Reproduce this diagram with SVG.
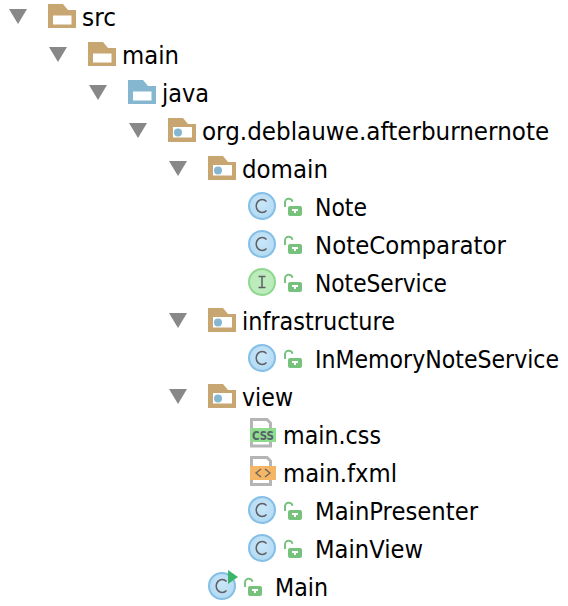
<svg xmlns="http://www.w3.org/2000/svg" width="568" height="606" viewBox="0 0 568 606">
<style>
text{font-family:"DejaVu Sans","Liberation Sans",sans-serif;font-size:25px;fill:#000}
.tri{fill:#888}
</style>
<defs>
<path id="tri" class="tri" d="M0 0H18L9 15Z"/>
<g id="folderShape"><path d="M0 0H15L20 6H28V24H0Z"/><rect x="5" y="11.500" width="18.500" height="9" fill="#fff"/></g>
<g id="pkg"><path d="M0 0H15L20 6H28V24H0Z" fill="#c8a672"/><rect x="5" y="9" width="19" height="10.500" fill="#fff"/><circle cx="10" cy="14.500" r="4" fill="#85b7d1"/></g>
<g id="lock"><rect x="4" y="8" width="14" height="10" rx="2" fill="#76c27d"/><path d="M1 9V5A3.800 3.800 0 0 1 8.500 3.800" fill="none" stroke="#76c27d" stroke-width="2"/><rect x="8" y="11" width="6" height="2" fill="#fff"/><rect x="10" y="11" width="2" height="4" fill="#fff"/></g>
<radialGradient id="cg" cx="50%" cy="40%" r="60%"><stop offset="0" stop-color="#c9e6f8"/><stop offset="1" stop-color="#b2daf3"/></radialGradient>
<g id="cIcon"><circle cx="14" cy="14" r="13" fill="url(#cg)" stroke="#85bfe6" stroke-width="2"/><path d="M18.500 9.500A6 6.500 0 1 0 18.500 18.500" fill="none" stroke="#5f5f63" stroke-width="1.500"/></g>
<g id="iIcon"><circle cx="14" cy="14" r="13" fill="#bcecbc" stroke="#8fd78f" stroke-width="2"/><path d="M10.500 8.500h7M14 8.500v11M10.500 19.500h7" fill="none" stroke="#5f5f63" stroke-width="1.500"/></g>
</defs>
<g id="connectors"/>
<g id="src"><use href="#tri" x="9" y="9"/><use href="#folderShape" x="48" y="4" fill="#c8a672"/><text x="82" y="26" textLength="34" lengthAdjust="spacingAndGlyphs">src</text></g>
<g id="main"><use href="#tri" x="49" y="47"/><use href="#folderShape" x="88" y="42" fill="#c8a672"/><text x="122" y="64" textLength="57" lengthAdjust="spacingAndGlyphs">main</text></g>
<g id="java"><use href="#tri" x="89" y="85"/><use href="#folderShape" x="128" y="80" fill="#85b7d1"/><text x="162" y="102" textLength="47" lengthAdjust="spacingAndGlyphs">java</text></g>
<g id="org"><use href="#tri" x="129" y="123"/><use href="#pkg" x="168" y="118"/><text transform="translate(202 140) scale(.924 1)">org.deblauwe.afterburnernote</text></g>
<g id="domain"><use href="#tri" x="169" y="161"/><use href="#pkg" x="208" y="156"/><text x="242" y="178" textLength="86" lengthAdjust="spacingAndGlyphs">domain</text></g>
<g id="note"><use href="#cIcon" x="248" y="192"/><use href="#lock" x="284" y="198"/><text x="315" y="216" textLength="52" lengthAdjust="spacingAndGlyphs">Note</text></g>
<g id="notecomparator"><use href="#cIcon" x="248" y="230"/><use href="#lock" x="284" y="236"/><text x="315" y="254" textLength="191" lengthAdjust="spacingAndGlyphs">NoteComparator</text></g>
<g id="noteservice"><use href="#iIcon" x="248" y="268"/><use href="#lock" x="284" y="274"/><text x="315" y="292" textLength="132" lengthAdjust="spacingAndGlyphs">NoteService</text></g>
<g id="infrastructure"><use href="#tri" x="169" y="313"/><use href="#pkg" x="208" y="308"/><text x="242" y="330" textLength="153" lengthAdjust="spacingAndGlyphs">infrastructure</text></g>
<g id="inmemory"><use href="#cIcon" x="248" y="344"/><use href="#lock" x="284" y="350"/><text transform="translate(315 368) scale(.883 1)">InMemoryNoteService</text></g>
<g id="view"><use href="#tri" x="169" y="389"/><use href="#pkg" x="208" y="384"/><text x="242" y="406" textLength="51" lengthAdjust="spacingAndGlyphs">view</text></g>
<g id="maincss">
<path d="M251.500 419.500H267L270.500 423V446H251.500Z" fill="#fff" stroke="#b5b5b5" stroke-width="3"/>
<rect x="250" y="428" width="26" height="14" fill="#8fdc8f"/><text x="263" y="440" style="font-size:12px;font-weight:bold;fill:#55606a;text-anchor:middle" textLength="22" lengthAdjust="spacingAndGlyphs">CSS</text>
<text x="283" y="444" textLength="98" lengthAdjust="spacingAndGlyphs">main.css</text></g>
<g id="mainfxml">
<path d="M251.500 457.500H267L270.500 461V484.500H251.500Z" fill="#fff" stroke="#b5b5b5" stroke-width="3"/>
<rect x="250" y="466" width="26" height="14" fill="#f4b565"/><path d="M261 469L256 473L261 477M265 469L270 473L265 477" fill="none" stroke="#6a6460" stroke-width="1.300"/>
<text x="283" y="482" textLength="114" lengthAdjust="spacingAndGlyphs">main.fxml</text></g>
<g id="mainpresenter"><use href="#cIcon" x="248" y="496"/><use href="#lock" x="284" y="502"/><text x="315" y="520" textLength="163" lengthAdjust="spacingAndGlyphs">MainPresenter</text></g>
<g id="mainview"><use href="#cIcon" x="248" y="534"/><use href="#lock" x="284" y="540"/><text x="315" y="558" textLength="108" lengthAdjust="spacingAndGlyphs">MainView</text></g>
<g id="mainclass"><use href="#cIcon" x="208" y="572"/><path d="M228 570L238 577L228 584Z" fill="#3cb56a"/><use href="#lock" x="244" y="578"/><text x="275" y="596" textLength="53" lengthAdjust="spacingAndGlyphs">Main</text></g>
</svg>
